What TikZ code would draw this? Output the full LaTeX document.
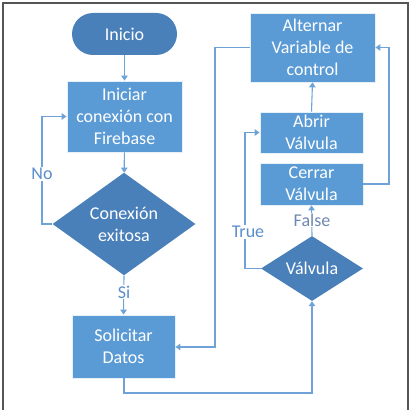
\documentclass[tikz,border=0pt]{standalone}
\usepackage{fontspec}
\setmainfont{Carlito}
\usetikzlibrary{shapes.geometric,arrows.meta}
\definecolor{boxblue}{HTML}{5B9BD5}
\definecolor{darkblue}{HTML}{4A80BA}
\definecolor{lineblue}{HTML}{6FA3D8}
\definecolor{lblblue}{HTML}{5A8DCB}
\definecolor{lblgray}{HTML}{7088B0}
\definecolor{framegray}{HTML}{555555}
\begin{document}
\begin{tikzpicture}[x=1pt,y=-1pt,
  every node/.style={font=\fontsize{18}{22}\selectfont, text=white, align=center, inner sep=0pt},
  procbox/.style={rectangle, fill=boxblue, draw=white!85!boxblue, line width=0.8pt},
  startbox/.style={rectangle, rounded corners=21pt, fill=darkblue, draw=none},
  decision/.style={diamond, fill=darkblue, draw=none},
  conn/.style={draw=lineblue, line width=1.1pt, -{Triangle[length=5pt,width=6.5pt]}},
  plain/.style={draw=lineblue, line width=1.1pt},
  lbl/.style={text=lblblue, fill=white, inner sep=1pt}]
\useasboundingbox (0,0) rectangle (411,409);
\draw[framegray, line width=1.3pt] (3,412) -- (3,3) -- (408,3) -- (408,412);

\node[startbox, minimum width=105pt, minimum height=42pt] (inicio) at (124.5,34) {Inicio};
\node[procbox, minimum width=115pt, minimum height=71pt] (iniciar) at (124.5,116.5) {Iniciar\\conexión con\\Firebase};
\node[decision, minimum width=143pt, minimum height=92pt] (conex) at (124,224) {Conexión\\exitosa};
\node[procbox, minimum width=103pt, minimum height=63pt] (solic) at (123.5,346.5) {Solicitar\\Datos};
\node[procbox, minimum width=125pt, minimum height=69pt] (altern) at (312.5,47.5) {Alternar\\Variable de\\control};
\node[procbox, minimum width=103pt, minimum height=41pt] (abrir) at (311.5,132.5) {Abrir\\Válvula};
\node[procbox, minimum width=103pt, minimum height=42pt] (cerrar) at (311.5,184) {Cerrar\\Válvula};
\node[decision, minimum width=102pt, minimum height=63pt] (valv) at (312,268.5) {Válvula};

\coordinate (noa) at (42,224);
\coordinate (nob) at (42,116.5);
\coordinate (sb1) at (124,393);
\coordinate (sb2) at (312,393);
\coordinate (tra) at (245,268.5);
\coordinate (trb) at (245,132.5);
\coordinate (cra) at (389,184);
\coordinate (crb) at (389,47.5);
\coordinate (ala) at (215,47.5);
\coordinate (alb) at (215,347);

\draw[conn] (inicio) -- (iniciar);
\draw[conn] (iniciar) -- (conex);
\draw[conn] (conex.west) -- (noa) -- (nob) -- (iniciar.west);
\node[lbl] (no) at (42,174) {No};
\draw[conn] (conex.south) -- (solic.north);
\node[lbl] (si) at (124,292) {Si};
\draw[conn] (solic.south -| sb1) -- (sb1) -- (sb2) -- (valv.south);
\draw[conn] (valv.west) -- (tra) -- (trb) -- (abrir.west);
\node[lbl] (true) at (248,232) {True};
\draw[conn] (valv.north) -- (cerrar.south);
\node[lbl, text=lblgray] (false) at (312,220) {False};
\draw[conn] (cerrar.east) -- (cra) -- (crb) -- (altern.east);
\draw[conn] (abrir.north) -- (altern.south);
\draw[conn] (altern.west) -- (ala) -- (alb) -- (solic.east |- alb);
\end{tikzpicture}
\end{document}
